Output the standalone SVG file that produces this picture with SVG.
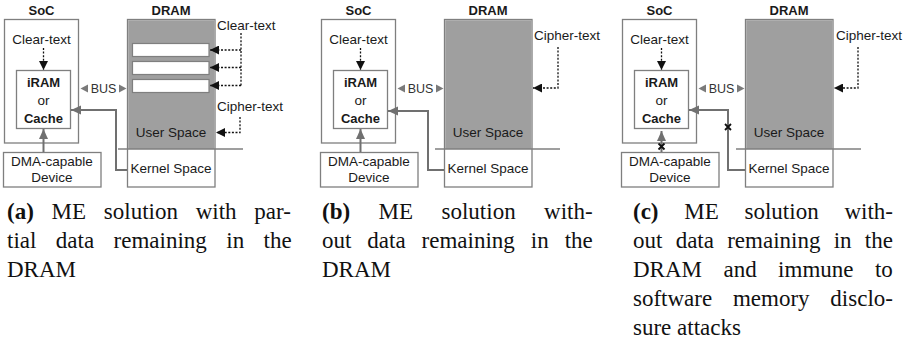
<svg xmlns="http://www.w3.org/2000/svg" width="912" height="344" viewBox="0 0 912 344">
<style>
.box{fill:#fff;stroke:#7f7f7f;stroke-width:1.3}
.user{fill:#9f9f9f;stroke:none}
.bar{fill:#fff;stroke:#7f7f7f;stroke-width:1.2}
.sep{stroke:#7f7f7f;stroke-width:1.3;fill:none}
.t{font-family:"Liberation Sans",Arial,sans-serif;font-size:13.5px;fill:#1a1a1a;text-anchor:middle}
.tl{font-family:"Liberation Sans",Arial,sans-serif;font-size:13.5px;fill:#1a1a1a;text-anchor:start}
.b{font-weight:bold;font-size:13px}
.bus{font-family:"Liberation Sans",Arial,sans-serif;font-size:12.5px;fill:#333;text-anchor:middle}
.solid{stroke:#707070;stroke-width:2;fill:none;marker-end:url(#ga)}
.dot{stroke:#111;stroke-width:1.3;stroke-dasharray:2 1.6;fill:none}
.dota{stroke:#111;stroke-width:1.3;stroke-dasharray:2 1.6;fill:none;marker-end:url(#ba)}
.tri{fill:#7a7a7a}
.x{stroke:#111;stroke-width:1.8}
.cap{font-family:"Liberation Serif","Times New Roman",serif;font-size:23px;fill:#111}
</style>
<defs>
<marker id="ga" markerUnits="userSpaceOnUse" markerWidth="10" markerHeight="10" viewBox="0 0 10 10" refX="10" refY="5" orient="auto"><path d="M0,0.5 L10,5 L0,9.5 Z" fill="#707070"/></marker>
<marker id="ba" markerUnits="userSpaceOnUse" markerWidth="9" markerHeight="9" viewBox="0 0 9 9" refX="9" refY="4.5" orient="auto"><path d="M0,0 L9,4.5 L0,9 Z" fill="#111"/></marker>
</defs>

<!-- Panel a -->
<g id="panel-a">
  <g id="a-soc"><rect class="box" x="4.5" y="19.5" width="74" height="123.5"/><text class="t b" x="41.5" y="15">SoC</text><text class="t" x="41.5" y="44">Clear-text</text></g>
  <g id="a-iram"><rect class="box" x="16.5" y="70.5" width="54" height="58"/><text class="t b" x="43.5" y="87">iRAM</text><text class="t" x="43.5" y="105">or</text><text class="t b" x="43.5" y="123">Cache</text></g>
  <g id="a-dma"><rect class="box" x="3.5" y="152.5" width="97.5" height="34.5"/><text class="t" x="52" y="166">DMA-capable</text><text class="t" x="52" y="182">Device</text></g>
  <g id="a-dram"><rect class="box" x="127.5" y="19.5" width="87.5" height="167.5"/><rect class="user" x="128.2" y="20.2" width="86.1" height="128.8"/><line class="sep" x1="118" y1="149" x2="243" y2="149"/><text class="t b" x="171" y="15">DRAM</text><text class="t" x="171" y="137">User Space</text><text class="t" x="171" y="173">Kernel Space</text>
    <rect class="bar" x="132.5" y="43.5" width="76.5" height="13"/><rect class="bar" x="132.5" y="61.5" width="76.5" height="13"/><rect class="bar" x="132.5" y="79.5" width="76.5" height="13"/></g>
  <g id="a-labels"><text class="tl" x="217" y="30">Clear-text</text><text class="tl" x="217" y="111">Cipher-text</text></g>
  <g id="a-connectors">
    <line class="dota" x1="43.5" y1="48" x2="43.5" y2="70"/>
    <line class="solid" x1="43.5" y1="152" x2="43.5" y2="129"/>
    <polyline class="solid" points="127,170 116,170 116,110 71,110"/>
    <path class="tri" d="M80.5,88.5 L88,84.5 L88,92.5 Z M126.5,88.5 L119,84.5 L119,92.5 Z"/>
    <text class="bus" x="103.5" y="93">BUS</text>
    <line class="dot" x1="241" y1="33" x2="241" y2="85.5"/>
    <line class="dota" x1="241" y1="50" x2="210" y2="50"/>
    <line class="dota" x1="241" y1="67.5" x2="210" y2="67.5"/>
    <line class="dota" x1="241" y1="85.5" x2="210" y2="85.5"/>
    <polyline class="dota" points="240,117 240,132.5 216,132.5"/>
  </g>
</g>

<!-- Panel b -->
<g id="panel-b" transform="translate(317,0)">
  <g id="b-soc"><rect class="box" x="4.5" y="19.5" width="74" height="123.5"/><text class="t b" x="41.5" y="15">SoC</text><text class="t" x="41.5" y="44">Clear-text</text></g>
  <g id="b-iram"><rect class="box" x="16.5" y="70.5" width="54" height="58"/><text class="t b" x="43.5" y="87">iRAM</text><text class="t" x="43.5" y="105">or</text><text class="t b" x="43.5" y="123">Cache</text></g>
  <g id="b-dma"><rect class="box" x="3.5" y="152.5" width="97.5" height="34.5"/><text class="t" x="52" y="166">DMA-capable</text><text class="t" x="52" y="182">Device</text></g>
  <g id="b-dram"><rect class="box" x="127.5" y="19.5" width="87.5" height="167.5"/><rect class="user" x="128.2" y="20.2" width="86.1" height="128.8"/><line class="sep" x1="118" y1="149" x2="243" y2="149"/><text class="t b" x="171" y="15">DRAM</text><text class="t" x="171" y="137">User Space</text><text class="t" x="171" y="173">Kernel Space</text></g>
  <g id="b-labels"><text class="tl" x="217" y="40">Cipher-text</text></g>
  <g id="b-connectors">
    <line class="dota" x1="43.5" y1="48" x2="43.5" y2="70"/>
    <line class="solid" x1="43.5" y1="152" x2="43.5" y2="129"/>
    <polyline class="solid" points="127,170 111,170 111,111 71,111"/>
    <path class="tri" d="M80.5,88.5 L88,84.5 L88,92.5 Z M126.5,88.5 L119,84.5 L119,92.5 Z"/>
    <text class="bus" x="103.5" y="93">BUS</text>
    <polyline class="dota" points="241,47 241,88 216,88"/>
  </g>
</g>

<!-- Panel c -->
<g id="panel-c" transform="translate(618,0)">
  <g id="c-soc"><rect class="box" x="4.5" y="19.5" width="74" height="123.5"/><text class="t b" x="41.5" y="15">SoC</text><text class="t" x="41.5" y="44">Clear-text</text></g>
  <g id="c-iram"><rect class="box" x="16.5" y="70.5" width="54" height="58"/><text class="t b" x="43.5" y="87">iRAM</text><text class="t" x="43.5" y="105">or</text><text class="t b" x="43.5" y="123">Cache</text></g>
  <g id="c-dma"><rect class="box" x="3.5" y="152.5" width="97.5" height="34.5"/><text class="t" x="52" y="166">DMA-capable</text><text class="t" x="52" y="182">Device</text></g>
  <g id="c-dram"><rect class="box" x="127.5" y="19.5" width="87.5" height="167.5"/><rect class="user" x="128.2" y="20.2" width="86.1" height="128.8"/><line class="sep" x1="118" y1="149" x2="243" y2="149"/><text class="t b" x="171" y="15">DRAM</text><text class="t" x="171" y="137">User Space</text><text class="t" x="171" y="173">Kernel Space</text></g>
  <g id="c-labels"><text class="tl" x="218" y="40">Cipher-text</text></g>
  <g id="c-connectors">
    <line class="dota" x1="43.5" y1="48" x2="43.5" y2="70"/>
    <line class="solid" x1="43.5" y1="152" x2="43.5" y2="131"/>
    <polyline class="solid" points="127,170 110,170 110,110 71,110"/>
    <path class="tri" d="M80.5,88.5 L88,84.5 L88,92.5 Z M126.5,88.5 L119,84.5 L119,92.5 Z"/>
    <text class="bus" x="103.5" y="93">BUS</text>
    <polyline class="dota" points="240,47 240,88 216,88"/>
    <path class="x" d="M40.5,143.5 L46.5,149.5 M46.5,143.5 L40.5,149.5"/>
    <path class="x" d="M107,124 L113,130 M113,124 L107,130"/>
  </g>
</g>

<!-- Captions -->
<g id="captions">
  <text class="cap" x="7" y="219" word-spacing="12"><tspan font-weight="bold">(a)</tspan> ME solution with par-</text>
  <text class="cap" x="7" y="248" word-spacing="13.7">tial data remaining in the</text>
  <text class="cap" x="7" y="277">DRAM</text>
  <text class="cap" x="322" y="219" word-spacing="22.7"><tspan font-weight="bold">(b)</tspan> ME solution with-</text>
  <text class="cap" x="322" y="248" word-spacing="10.2">out data remaining in the</text>
  <text class="cap" x="322" y="277">DRAM</text>
  <text class="cap" x="633" y="219" word-spacing="20"><tspan font-weight="bold">(c)</tspan> ME solution with-</text>
  <text class="cap" x="633" y="248" word-spacing="7.5">out data remaining in the</text>
  <text class="cap" x="633" y="277" word-spacing="15.7">DRAM and immune to</text>
  <text class="cap" x="633" y="306" word-spacing="15">software memory disclo-</text>
  <text class="cap" x="633" y="335">sure attacks</text>
</g>
</svg>
